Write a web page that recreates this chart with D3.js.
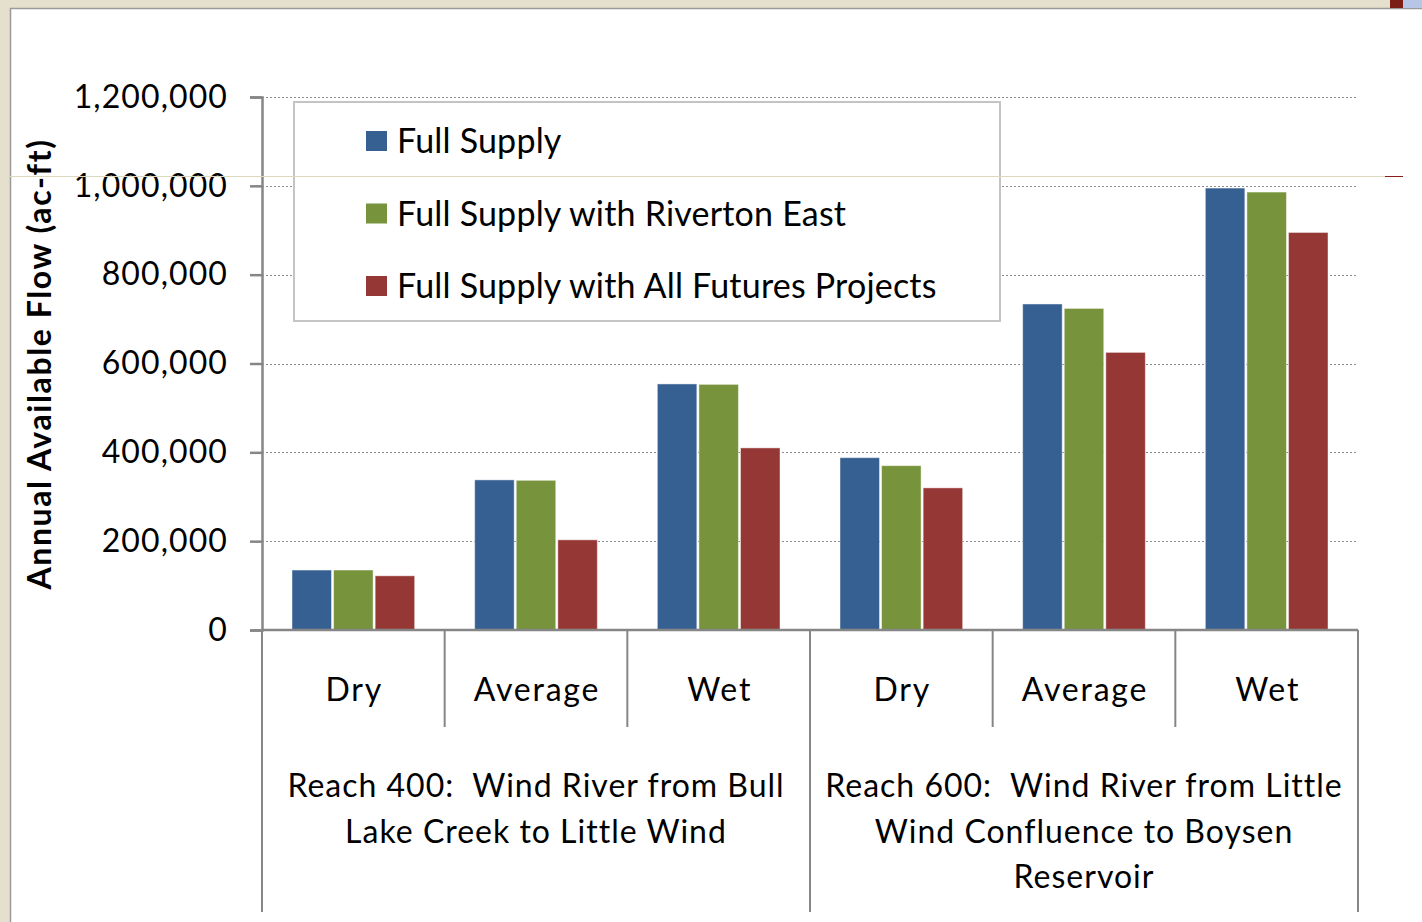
<!DOCTYPE html>
<html>
<head>
<meta charset="utf-8">
<script src="https://cdn.jsdelivr.net/npm/d3@7"></script>
<style>
  html, body { margin: 0; padding: 0; background: #e4e0cd; }
  svg { display: block; }
  text { font-family: Lato, "Open Sans", sans-serif; fill: #000; white-space: pre; }
</style>
</head>
<body>
<svg id="chart" width="1422" height="922"></svg>
<script>
// Water-year conditions within each reach
const conditions = ["Dry", "Average", "Wet", "Dry", "Average", "Wet"];
const reachLabels = [
  ["Reach 400:  Wind River from Bull", "Lake Creek to Little Wind"],
  ["Reach 600:  Wind River from Little", "Wind Confluence to Boysen", "Reservoir"]
];

// Series names and annual available flow (ac-ft)
const seriesNames = ["Full Supply", "Full Supply with Riverton East", "Full Supply with All Futures Projects"];
const fullSupply = [135000, 338000, 554000, 388000, 734000, 995000];
const withRivertonEast = [135000, 337000, 553000, 370000, 724000, 986000];
const withAllFutures = [122000, 203000, 410000, 320000, 625000, 895000];
const seriesValues = [fullSupply, withRivertonEast, withAllFutures];
const seriesColors = ["#376092", "#77933c", "#953735"];

const yTicks = [0, 200000, 400000, 600000, 800000, 1000000, 1200000];

const svg = d3.select("#chart");

// white chart panel with its grey frame
svg.append("rect").attr("x", 10).attr("y", 9).attr("width", 1412).attr("height", 913).attr("fill", "#fff");
svg.append("line").attr("x1", 10).attr("x2", 1422).attr("y1", 8.5).attr("y2", 8.5).attr("stroke", "#9a9a9a").attr("stroke-width", 1.5);
svg.append("line").attr("x1", 10.5).attr("x2", 10.5).attr("y1", 8).attr("y2", 922).attr("stroke", "#9a9a9a").attr("stroke-width", 1.5);
svg.append("rect").attr("x", 1390).attr("y", 0).attr("width", 13).attr("height", 8).attr("fill", "#7b1e16");
svg.append("rect").attr("x", 1403).attr("y", 0).attr("width", 19).attr("height", 8).attr("fill", "#b7c6e6");

const plot = { left: 262, right: 1358, top: 97, bottom: 630 };

const y = d3.scaleLinear().domain([0, 1200000]).range([plot.bottom, plot.top]);
const x = d3.scaleBand().domain(d3.range(conditions.length)).range([plot.left, plot.right]).padding(0);
const xs = d3.scaleBand().domain(d3.range(seriesNames.length))
  .range([30, x.bandwidth() - 30]).paddingInner(0.05).paddingOuter(0);

// dotted gridlines
svg.append("g").selectAll("line").data(yTicks.slice(1)).join("line")
  .attr("x1", plot.left).attr("x2", plot.right)
  .attr("y1", d => Math.round(y(d)) + 0.5).attr("y2", d => Math.round(y(d)) + 0.5)
  .attr("stroke", "#8c8c8c").attr("stroke-width", 1.2).attr("stroke-dasharray", "2,2");

// bars
const groups = svg.append("g").selectAll("g").data(conditions).join("g")
  .attr("transform", (d, i) => `translate(${x(i)},0)`);
groups.selectAll("rect").data((d, i) => seriesValues.map((vals, s) => ({ s, v: vals[i] }))).join("rect")
  .attr("x", d => xs(d.s)).attr("width", xs.bandwidth())
  .attr("y", d => y(d.v)).attr("height", d => y(0) - y(d.v))
  .attr("fill", d => seriesColors[d.s])
  .attr("stroke", "#ffffff").attr("stroke-opacity", 0.45).attr("stroke-width", 1);

// y axis
const yAxis = d3.axisLeft(y).tickValues(yTicks).tickSize(12).tickPadding(22)
  .tickFormat(d3.format(","));
const yg = svg.append("g").attr("transform", `translate(${plot.left},0)`).call(yAxis);
yg.select(".domain").attr("stroke", "#868686").attr("stroke-width", 2.5);
yg.selectAll(".tick line").attr("stroke", "#868686").attr("stroke-width", 2.5);
yg.selectAll(".tick text").style("font-size", "32px").style("font-family", "Lato, sans-serif")
  .style("letter-spacing", "1.1px").attr("fill", "#000");

// x axis line and category separators
const axisColor = "#868686";
svg.append("line").attr("x1", plot.left).attr("x2", plot.right)
  .attr("y1", plot.bottom).attr("y2", plot.bottom).attr("stroke", axisColor).attr("stroke-width", 2.5);
const boundaries = d3.range(conditions.length + 1).map(i => i < conditions.length ? x(i) : plot.right);
svg.append("g").selectAll("line").data(boundaries).join("line")
  .attr("x1", d => d).attr("x2", d => d)
  .attr("y1", plot.bottom)
  .attr("y2", (d, i) => (i % 3 === 0) ? 912 : 727)
  .attr("stroke", axisColor).attr("stroke-width", 2);

// condition labels
svg.append("g").selectAll("text").data(conditions).join("text")
  .attr("x", (d, i) => x(i) + x.bandwidth() / 2 + 1).attr("y", 701)
  .attr("text-anchor", "middle").style("font-size", "32px").style("letter-spacing", "1.8px").text(d => d);

// reach labels
reachLabels.forEach((lines, r) => {
  const cx = (x(r * 3) + (r * 3 + 3 < conditions.length ? x(r * 3 + 3) : plot.right)) / 2;
  const t = svg.append("text").attr("text-anchor", "middle").style("font-size", "32px").style("letter-spacing", "1px");
  lines.forEach((ln, k) => {
    t.append("tspan").attr("x", cx).attr("y", 797 + k * 45.5).text(ln);
  });
});

// y axis title
svg.append("text")
  .attr("transform", "translate(51,364) rotate(-90)")
  .attr("text-anchor", "middle").style("font-size", "32px").style("font-weight", "bold")
  .style("letter-spacing", "1.6px")
  .text("Annual Available Flow (ac-ft)");

// legend
const legend = svg.append("g");
legend.append("rect").attr("x", 294).attr("y", 102).attr("width", 706).attr("height", 219)
  .attr("fill", "#fff").attr("stroke", "#c4c4c4").attr("stroke-width", 2);
const entries = legend.selectAll("g").data(seriesNames).join("g")
  .attr("transform", (d, i) => `translate(366,${141 + i * 72.5})`);
entries.append("rect").attr("x", 0).attr("y", -10).attr("width", 21).attr("height", 20)
  .attr("fill", (d, i) => seriesColors[i]);
entries.append("text").attr("x", 31).attr("y", 12).style("font-size", "34px").style("letter-spacing", "0.2px").text(d => d);

// thin rule across the panel
svg.append("line").attr("x1", 10).attr("x2", 1385).attr("y1", 176.5).attr("y2", 176.5)
  .attr("stroke", "#ddd8bd").attr("stroke-width", 1);
svg.append("line").attr("x1", 1385).attr("x2", 1403).attr("y1", 176.5).attr("y2", 176.5)
  .attr("stroke", "#8b1e16").attr("stroke-width", 1);
</script>
</body>
</html>
